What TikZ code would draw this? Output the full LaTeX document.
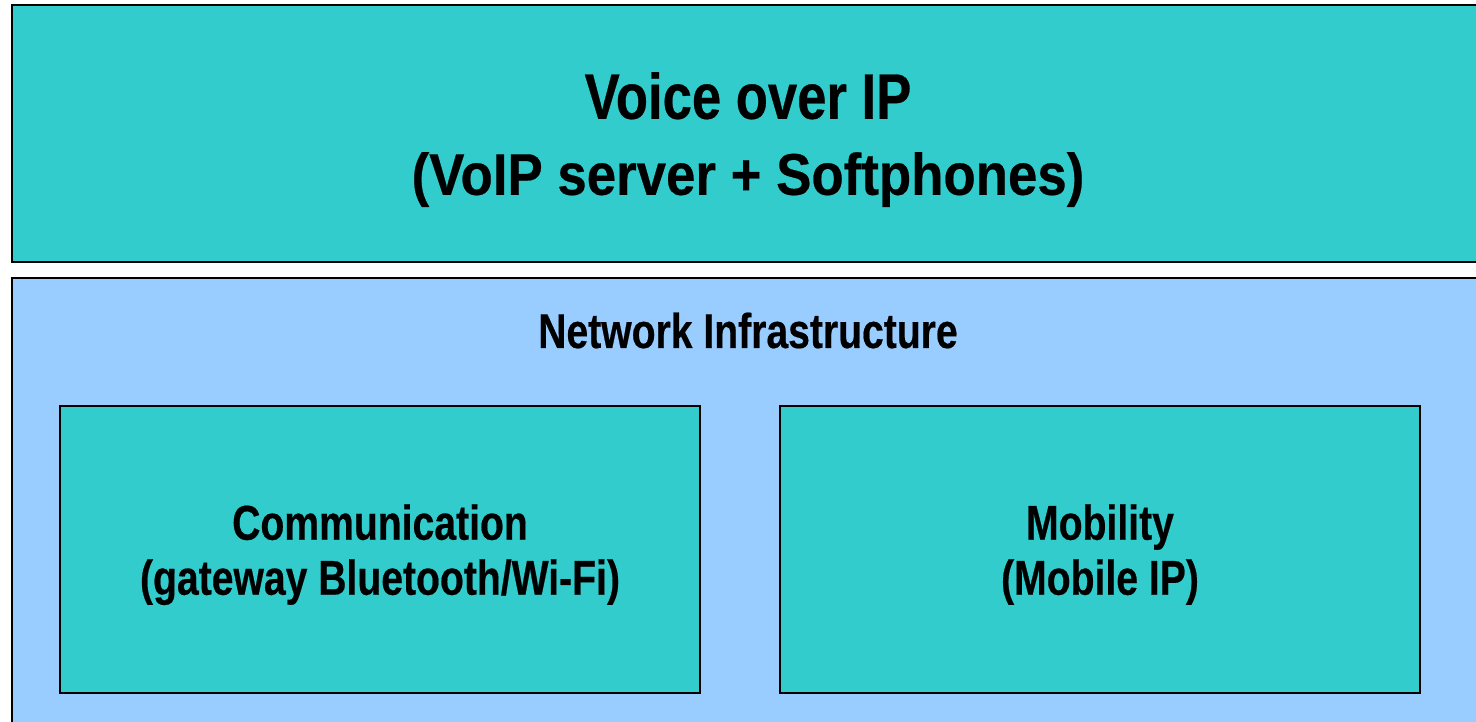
\documentclass[tikz,border=0pt]{standalone}
\usepackage{fontspec}
\usetikzlibrary{positioning}
\newfontfamily\narrowfont{Liberation Sans}[FakeStretch=0.8, FakeBold=0.4]
\newfontfamily\titlefontA{Liberation Sans}[FakeStretch=0.82, FakeBold=0.4]
\newfontfamily\titlefontB{Liberation Sans}[FakeStretch=0.9, FakeBold=0.4]
\definecolor{voipteal}{HTML}{33CCCC}
\definecolor{netblue}{HTML}{99CCFF}

\begin{document}
\begin{tikzpicture}[
    x=1pt, y=1pt,
    layer/.style={draw, line width=2.6pt, inner sep=0pt, outer sep=0pt, align=center},
    module/.style={layer, fill=voipteal, minimum width=640pt, minimum height=287pt,
                   text depth=0pt, font=\narrowfont\bfseries\fontsize{48.9}{55}\selectfont},
    lbl/.style={font=\narrowfont\bfseries\fontsize{48.9}{55}\selectfont}
]
    \useasboundingbox (0,0) rectangle (1476,721);

    % application layer on top
    \node[layer, fill=voipteal, minimum width=1472pt, minimum height=257pt,
          text depth=0pt, font=\fontsize{60}{76}\selectfont] (voip) at (748,587.5)
        {{\titlefontA\bfseries\fontsize{64.2}{76}\selectfont Voice over IP}\\
         {\titlefontB\bfseries\fontsize{58.7}{76}\selectfont (VoIP server + Softphones)}};

    % network layer with its two modules
    \node[layer, fill=netblue, minimum width=1472pt, minimum height=462pt] (infra) at (748,212) {};
    \node[lbl, anchor=base] (netlabel) at ([yshift=-70pt]infra.north) {Network Infrastructure};

    \node[module] (comm) at (380,171.5) {Communication\\(gateway Bluetooth/Wi-Fi)};
    \node[module, right=80pt of comm] (mobility) {Mobility\\(Mobile IP)};
\end{tikzpicture}
\end{document}
